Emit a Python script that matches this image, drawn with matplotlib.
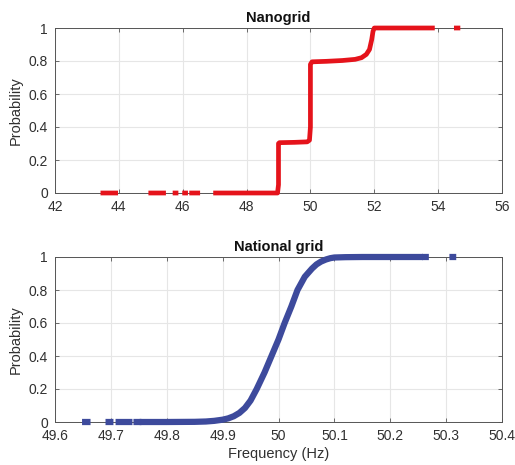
import numpy as np
import matplotlib
matplotlib.use("Agg")
import matplotlib.pyplot as plt

plt.rcParams['font.family'] = ['Liberation Sans', 'DejaVu Sans']

# empirical CDF of nanogrid frequency (Hz, probability); NaN breaks the gaps
nano_f = [43.5, 43.9, np.nan, 45.0, 45.4, np.nan, 45.76, 45.79, np.nan,
          46.06, 46.09, np.nan, 46.28, 46.47, np.nan,
          47.03, 48.0, 48.97, 49.0, 49.0, 49.03, 49.5, 49.9, 49.97, 50.0, 50.0,
          50.05, 50.5, 51.0, 51.4, 51.6, 51.75, 51.85, 51.92, 51.96, 52.0,
          52.5, 53.0, 53.82, np.nan, 54.57, 54.62]
nano_p = [0, 0, np.nan, 0, 0, np.nan, 0, 0, np.nan,
          0, 0, np.nan, 0, 0, np.nan,
          0, 0, 0, 0.05, 0.3, 0.305, 0.307, 0.31, 0.32, 0.4, 0.78,
          0.795, 0.798, 0.803, 0.81, 0.82, 0.84, 0.87, 0.93, 0.98, 1.0,
          1.0, 1.0, 1.0, np.nan, 1.0, 1.0]

# empirical CDF of national grid frequency
nat_f = [49.654, 49.658, np.nan, 49.696, 49.699, np.nan, 49.714, 49.733, np.nan,
         49.746, 49.749, np.nan, 49.757, 49.8, 49.85, 49.87, 49.885, 49.9,
         49.91, 49.92, 49.93, 49.94, 49.95, 49.961, 49.975, 49.9875, 50.0,
         50.011, 50.023, 50.034, 50.047, 50.06, 50.068, 50.076, 50.085,
         50.093, 50.1, 50.12, 50.15, 50.2, 50.253,
         np.nan, 50.2625, 50.2635, np.nan, 50.3115, 50.3125]
nat_p = [0, 0, np.nan, 0, 0, np.nan, 0, 0, np.nan,
         0, 0, np.nan, 0, 0, 0.001, 0.003, 0.007, 0.014,
         0.022, 0.035, 0.055, 0.085, 0.13, 0.2, 0.3, 0.4, 0.5,
         0.6, 0.7, 0.8, 0.88, 0.93, 0.955, 0.972, 0.985,
         0.993, 0.997, 0.999, 1.0, 1.0, 1.0,
         np.nan, 1.0, 1.0, np.nan, 1.0, 1.0]

prob_ticks = [0, 0.2, 0.4, 0.6, 0.8, 1]
nano_ticks = [42, 44, 46, 48, 50, 52, 54, 56]
nat_ticks = [49.6, 49.7, 49.8, 49.9, 50, 50.1, 50.2, 50.3, 50.4]
nat_labels = ['49.6', '49.7', '49.8', '49.9', '50', '50.1', '50.2', '50.3', '50.4']

fig = plt.figure(figsize=(5.15, 4.65), dpi=100)
ax1 = fig.add_axes([55/515, 1-193/465, 447/515, 165/465])
ax2 = fig.add_axes([55/515, 1-422/465, 447/515, 165/465])

txt = '#303030'


def style(ax):
    ax.set_ylim(0, 1)
    ax.set_yticks(prob_ticks)
    ax.set_yticklabels(['0', '0.2', '0.4', '0.6', '0.8', '1'])
    ax.grid(True, color='#e6e6e6', linewidth=0.8)
    ax.set_axisbelow(True)
    ax.tick_params(direction='in', top=True, right=True, length=3,
                   labelsize=10, colors=txt, width=0.6, pad=5)
    ax.tick_params(axis='both', color='#555555')
    for s in ax.spines.values():
        s.set_color('#555555')
        s.set_linewidth(0.7)
    ax.set_ylabel('Probability', fontsize=10.5, color=txt, labelpad=4)


ax1.plot(nano_f, nano_p, color='#e5131b', linewidth=3.4, clip_on=False,
         solid_capstyle='projecting', solid_joinstyle='round', zorder=3)
ax1.set_xlim(42, 56)
ax1.set_xticks(nano_ticks)
style(ax1)
ax1.set_title('Nanogrid', fontsize=10.5, fontweight='bold', color='#111111', pad=4)

ax2.plot(nat_f, nat_p, color='#3d4a9c', linewidth=4.5, clip_on=False,
         solid_capstyle='projecting', solid_joinstyle='round', zorder=3)
ax2.set_xlim(49.6, 50.4)
ax2.set_xticks(nat_ticks)
ax2.set_xticklabels(nat_labels)
style(ax2)
ax2.set_title('National grid', fontsize=10.5, fontweight='bold', color='#111111', pad=4)
ax2.set_xlabel('Frequency (Hz)', fontsize=10.5, color=txt, labelpad=3)

fig.savefig('out.png', dpi=100)
